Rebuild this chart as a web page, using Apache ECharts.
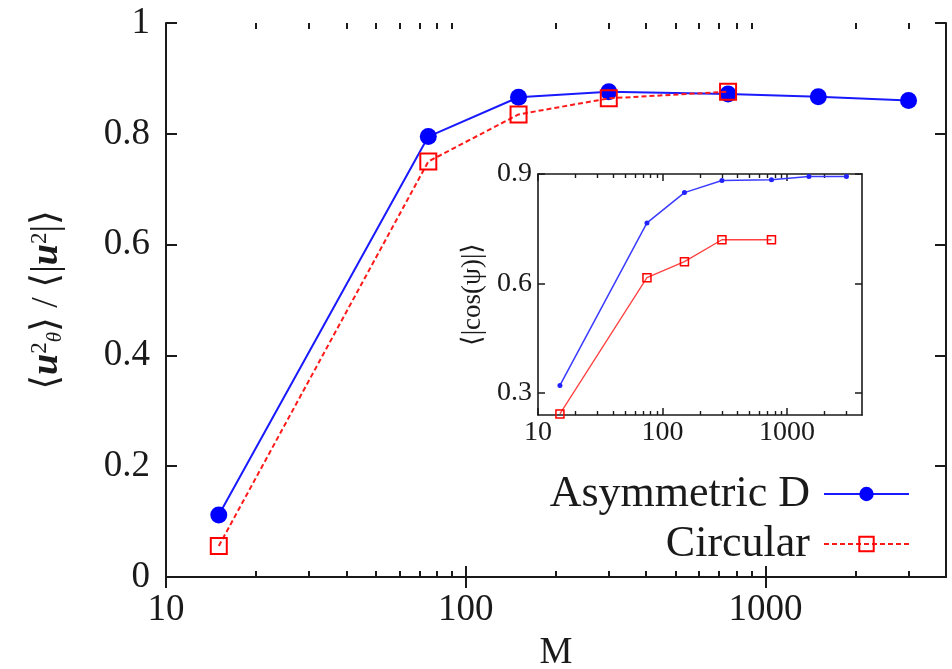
<!DOCTYPE html>
<html>
<head>
<meta charset="utf-8">
<script src="https://cdn.jsdelivr.net/npm/echarts@6/dist/echarts.min.js"></script>
<style>html,body{margin:0;padding:0;background:#fff}#c{width:952px;height:669px}</style>
</head>
<body>
<div id="c"></div>
<script>
// ---- data ----
const M_asym = [15, 75, 150, 300, 750, 1500, 3000];
const ratio_asym = [0.112, 0.795, 0.866, 0.876, 0.872, 0.867, 0.860];
const M_circ = [15, 75, 150, 300, 750];
const ratio_circ = [0.056, 0.750, 0.835, 0.864, 0.876];
const cos_asym = [0.321, 0.766, 0.849, 0.882, 0.884, 0.893, 0.893];
const cos_circ = [0.243, 0.616, 0.660, 0.720, 0.720];
const xMajorTicks = [10, 100, 1000];
const xMinorTicks = [20, 30, 40, 50, 60, 70, 80, 90, 200, 300, 400, 500, 600, 700, 800, 900, 2000, 3000];
const mainYTicks = [0, 0.2, 0.4, 0.6, 0.8, 1];
const insetYTicks = [0.3, 0.6, 0.9];
const seriesNames = ['Asymmetric D', 'Circular'];

const FONT = '"Liberation Serif", "DejaVu Serif", serif';
const INK = '#1a1a1a';
const zip = (a, b) => a.map((v, i) => [v, b[i]]);
const fmtX = v => String(Math.round(v));

function xAx(grid, pos, opts) {
  return Object.assign({
    type: 'log', logBase: 10, min: 10, max: 4000, gridIndex: grid, position: pos,
    splitLine: { show: false },
    axisLine: { show: true, lineStyle: { color: INK, width: 2 } },
    axisTick: { show: true, inside: true, length: 11, customValues: xMajorTicks, lineStyle: { color: INK, width: 2 } },
    axisLabel: { show: false }
  }, opts);
}

const mainRect = { left: 166, right: 6, top: 23, bottom: 92 };
const insetRect = { left: 538, right: 90, top: 174, bottom: 254 };
const minorMain = { show: true, inside: true, length: 6, customValues: xMinorTicks, lineStyle: { color: INK, width: 2 } };
const minorInset = { show: true, inside: true, length: 4, customValues: xMinorTicks, lineStyle: { color: INK, width: 1.4 } };

const option = {
  animation: false,
  backgroundColor: '#fff',
  grid: [mainRect, mainRect, insetRect, insetRect].map(r => Object.assign({ containLabel: false, outerBoundsMode: 'none' }, r)),
  legend: {
    orient: 'vertical', align: 'right', right: 37, top: 467,
    itemWidth: 85, itemHeight: 18, itemGap: 6,
    data: seriesNames,
    textStyle: { fontSize: 44, fontFamily: FONT, color: INK, padding: [0, 9, 0, 0] }
  },
  xAxis: [
    xAx(0, 'bottom', {
      axisLabel: { show: true, customValues: xMajorTicks, formatter: fmtX, fontSize: 37, fontFamily: FONT, color: INK, margin: 15 },
      name: 'M', nameLocation: 'middle', nameGap: 58,
      nameTextStyle: { fontSize: 37, fontFamily: FONT, color: INK }
    }),
    xAx(0, 'top', {}),
    xAx(1, 'bottom', { axisLine: { show: false }, axisTick: minorMain }),
    xAx(1, 'top', { axisLine: { show: false }, axisTick: minorMain }),
    xAx(2, 'bottom', {
      axisLine: { show: true, lineStyle: { color: INK, width: 1.6 } },
      axisTick: { show: true, inside: true, length: 7, customValues: xMajorTicks, lineStyle: { color: INK, width: 1.5 } },
      axisLabel: { show: true, customValues: xMajorTicks, formatter: fmtX, fontSize: 28, fontFamily: FONT, color: INK, margin: 4 }
    }),
    xAx(2, 'top', {
      axisLine: { show: true, lineStyle: { color: INK, width: 1.6 } },
      axisTick: { show: true, inside: true, length: 7, customValues: xMajorTicks, lineStyle: { color: INK, width: 1.5 } }
    }),
    xAx(3, 'bottom', { axisLine: { show: false }, axisTick: minorInset }),
    xAx(3, 'top', { axisLine: { show: false }, axisTick: minorInset })
  ],
  yAxis: [
    {
      type: 'value', gridIndex: 0, position: 'left', min: 0, max: 1, interval: 0.2,
      splitLine: { show: false },
      axisLine: { show: true, lineStyle: { color: INK, width: 2 } },
      axisTick: { show: true, inside: true, length: 11, lineStyle: { color: INK, width: 2 } },
      axisLabel: { fontSize: 37, fontFamily: FONT, color: INK, margin: 16 },
      name: '⟨{i|u}{sup|2}{sub|θ}⟩ / ⟨|{i|u}{sup|2}|⟩',
      nameLocation: 'middle', nameGap: 100,
      nameTextStyle: {
        fontSize: 38, fontFamily: FONT, color: INK,
        rich: {
          i: { fontSize: 38, fontFamily: FONT, fontStyle: 'italic', fontWeight: 'bold', color: INK },
          sup: { fontSize: 23, fontFamily: FONT, color: INK, verticalAlign: 'top', padding: [0, 0, 14, 0] },
          sub: { fontSize: 21, fontFamily: FONT, fontStyle: 'italic', color: INK, verticalAlign: 'bottom', padding: [12, 0, 0, 0] }
        }
      }
    },
    {
      type: 'value', gridIndex: 0, position: 'right', min: 0, max: 1, interval: 0.2,
      splitLine: { show: false },
      axisLine: { show: true, lineStyle: { color: INK, width: 2 } },
      axisTick: { show: true, inside: true, length: 11, lineStyle: { color: INK, width: 2 } },
      axisLabel: { show: false }
    },
    { type: 'value', gridIndex: 1, min: 0, max: 1, show: false },
    {
      type: 'value', gridIndex: 2, position: 'left', min: 0.24, max: 0.9,
      splitLine: { show: false },
      axisLine: { show: true, lineStyle: { color: INK, width: 1.6 } },
      axisTick: { show: true, inside: true, length: 7, customValues: insetYTicks, lineStyle: { color: INK, width: 1.5 } },
      axisLabel: { customValues: insetYTicks, formatter: v => v.toFixed(1), fontSize: 28, fontFamily: FONT, color: INK, margin: 6 },
      name: '⟨|cos(ψ)|⟩', nameLocation: 'middle', nameGap: 52,
      nameTextStyle: { fontSize: 27, fontFamily: FONT, color: INK }
    },
    {
      type: 'value', gridIndex: 2, position: 'right', min: 0.24, max: 0.9,
      splitLine: { show: false },
      axisLine: { show: true, lineStyle: { color: INK, width: 1.6 } },
      axisTick: { show: true, inside: true, length: 7, customValues: insetYTicks, lineStyle: { color: INK, width: 1.5 } },
      axisLabel: { show: false }
    },
    { type: 'value', gridIndex: 3, min: 0.24, max: 0.9, show: false }
  ],
  series: [
    {
      name: seriesNames[0], type: 'line', xAxisIndex: 0, yAxisIndex: 0,
      data: zip(M_asym, ratio_asym),
      symbol: 'circle', symbolSize: 17,
      itemStyle: { color: '#0000ff' },
      lineStyle: { color: '#1a1aff', width: 2 },
      z: 3
    },
    {
      name: seriesNames[1], type: 'line', xAxisIndex: 0, yAxisIndex: 0,
      data: zip(M_circ, ratio_circ),
      symbol: 'rect', symbolSize: 16,
      itemStyle: { color: 'rgba(255,255,255,0)', borderColor: '#ff0000', borderWidth: 2 },
      lineStyle: { color: '#ff1a1a', width: 2, type: [5, 3] },
      z: 4
    },
    {
      name: 'inset-asym', type: 'line', xAxisIndex: 4, yAxisIndex: 3,
      data: zip(M_asym, cos_asym),
      symbol: 'circle', symbolSize: 5,
      itemStyle: { color: '#2222ff' },
      lineStyle: { color: '#3b3bff', width: 1.5 },
      clip: false
    },
    {
      name: 'inset-circ', type: 'line', xAxisIndex: 4, yAxisIndex: 3,
      data: zip(M_circ, cos_circ),
      symbol: 'rect', symbolSize: 8,
      itemStyle: { color: 'rgba(255,255,255,0)', borderColor: '#ff0000', borderWidth: 1.5 },
      lineStyle: { color: '#ff4040', width: 1.3 },
      clip: false
    }
  ]
};

const chart = echarts.init(document.getElementById('c'), null, { renderer: 'canvas' });
chart.setOption(option);
</script>
</body>
</html>
